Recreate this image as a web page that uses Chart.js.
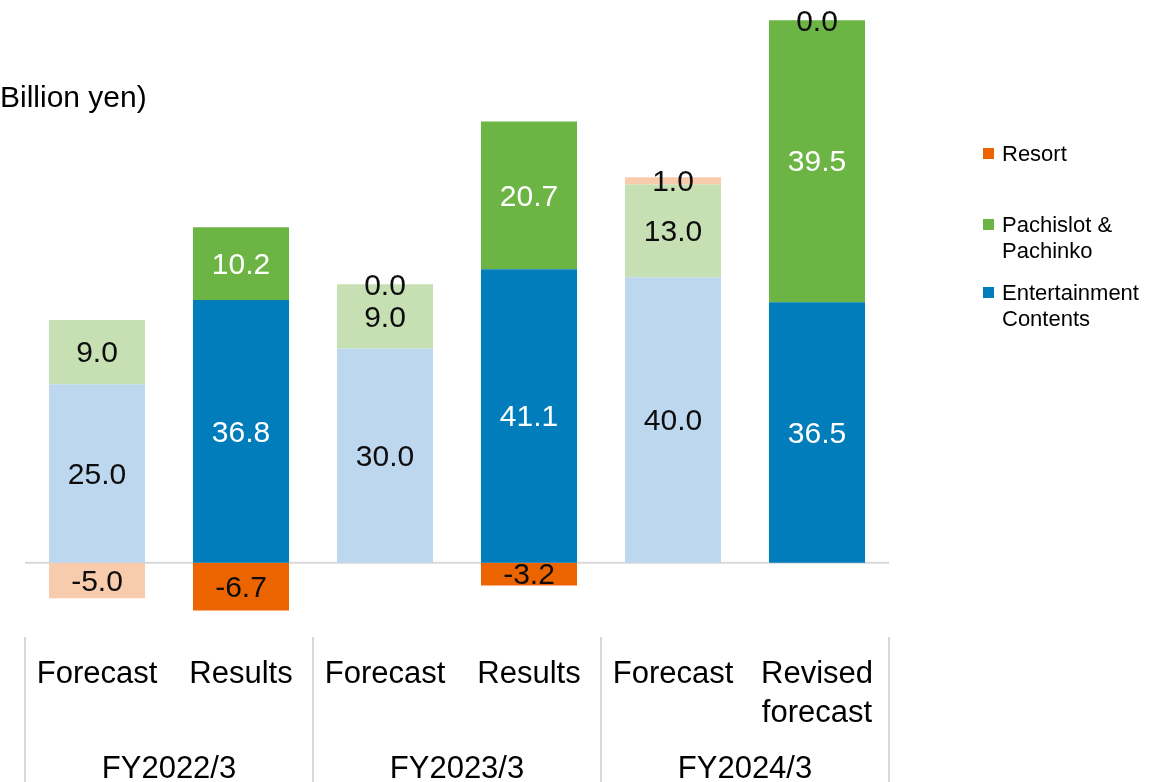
<!DOCTYPE html>
<html>
<head>
<meta charset="utf-8">
<title>Operating income by segment</title>
<script src="https://cdn.jsdelivr.net/npm/chart.js@4.4.0/dist/chart.umd.min.js"></script>
<style>
  body { margin: 0; background: #fff; overflow: hidden; }
  #wrap { position: relative; width: 1173px; height: 782px; }
  #unit { position: absolute; left: -10px; top: 82px; font: 30px/30px "Liberation Sans", Arial, sans-serif; color: #000; white-space: nowrap; }
  #legend { position: absolute; left: 983px; top: 0; font: 22px/26px "Liberation Sans", Arial, sans-serif; color: #000; }
  .item { position: absolute; left: 0; display: flex; white-space: nowrap; }
  .sw { width: 11px; height: 11px; margin-top: 7px; margin-right: 8px; flex: none; }
</style>
</head>
<body>
<div id="wrap">
  <canvas id="chart" width="1173" height="782"></canvas>
  <div id="unit">(Billion yen)</div>
  <div id="legend"></div>
</div>
<script>
// data
const categories = ['Forecast', 'Results', 'Forecast', 'Results', 'Forecast', ['Revised', 'forecast']];
const groups = ['FY2022/3', 'FY2023/3', 'FY2024/3'];
const entertainment = [25.0, 36.8, 30.0, 41.1, 40.0, 36.5];
const pachislot = [9.0, 10.2, 9.0, 20.7, 13.0, 39.5];
const resort = [-5.0, -6.7, 0.0, -3.2, 1.0, 0.0];

// forecast bars are pale, results bars are solid
const isResult = [false, true, false, true, false, true];
function shade(dark, light) { return isResult.map(r => r ? dark : light); }

const fontFamily = '"Liberation Sans", Arial, sans-serif';

// zero line, group separators and group labels
const decor = {
  id: 'decor',
  beforeDatasetsDraw(chart) {
    const { ctx, chartArea, scales } = chart;
    const y0 = scales.y.getPixelForValue(0);
    ctx.save();
    ctx.strokeStyle = '#d9d9d9';
    ctx.lineWidth = 2;
    ctx.beginPath();
    ctx.moveTo(chartArea.left, y0);
    ctx.lineTo(chartArea.right, y0);
    ctx.stroke();
    ctx.restore();
  },
  afterDraw(chart) {
    const { ctx, scales } = chart;
    const x = scales.x;
    const step = x.getPixelForValue(1) - x.getPixelForValue(0);
    ctx.save();
    ctx.strokeStyle = '#d9d9d9';
    ctx.lineWidth = 2;
    for (let g = 0; g <= groups.length; g++) {
      const px = x.getPixelForValue(g * 2) - step / 2;
      ctx.beginPath();
      ctx.moveTo(px, x.top + 3);
      ctx.lineTo(px, chart.height);
      ctx.stroke();
    }
    ctx.fillStyle = '#000';
    ctx.font = '31px ' + fontFamily;
    ctx.textAlign = 'center';
    ctx.textBaseline = 'alphabetic';
    groups.forEach((name, g) => {
      const cx = (x.getPixelForValue(g * 2) + x.getPixelForValue(g * 2 + 1)) / 2;
      ctx.fillText(name, cx, 778);
    });
    ctx.restore();
  }
};

// value labels in the middle of every segment
const valueLabels = {
  id: 'valueLabels',
  afterDatasetsDraw(chart) {
    const { ctx } = chart;
    ctx.save();
    ctx.font = '30px ' + fontFamily;
    ctx.textAlign = 'center';
    ctx.textBaseline = 'middle';
    chart.data.datasets.forEach((ds, di) => {
      chart.getDatasetMeta(di).data.forEach((bar, i) => {
        const v = ds.data[i];
        const white = di < 2 && isResult[i];
        ctx.fillStyle = white ? '#fff' : '#0d0d0d';
        ctx.fillText(v.toFixed(1), bar.x, (bar.y + bar.base) / 2 + 2);
      });
    });
    ctx.restore();
  }
};

const chart = new Chart(document.getElementById('chart'), {
  type: 'bar',
  data: {
    labels: categories,
    datasets: [
      { label: 'Entertainment\nContents', data: entertainment, backgroundColor: shade('#007dba', '#bdd7ee'), swatch: '#007dba' },
      { label: 'Pachislot &\nPachinko', data: pachislot, backgroundColor: shade('#6cb545', '#c6e0b4'), swatch: '#6cb545' },
      { label: 'Resort', data: resort, backgroundColor: shade('#eb6400', '#f8cbad'), swatch: '#eb6400' }
    ]
  },
  options: {
    responsive: false,
    animation: false,
    layout: { padding: { left: 25, right: 284, top: 6, bottom: 0 } },
    datasets: { bar: { categoryPercentage: 1, barPercentage: 0.667, borderWidth: 0 } },
    plugins: { legend: { display: false }, tooltip: { enabled: false } },
    scales: {
      x: {
        stacked: true,
        grid: { display: false },
        border: { display: false },
        ticks: {
          color: '#000',
          font: { family: fontFamily, size: 31, lineHeight: 1.26 },
          padding: 13,
          maxRotation: 0,
          autoSkip: false
        },
        afterFit(scale) { scale.height = 148; }
      },
      y: { stacked: true, display: false, min: -10, max: 78 }
    }
  },
  plugins: [decor, valueLabels]
});

// legend, top entry first like the stack order
const legend = document.getElementById('legend');
const legendTops = [141, 212, 280];
chart.data.datasets.slice().reverse().forEach((ds, i) => {
  const item = document.createElement('div');
  item.className = 'item';
  item.style.top = legendTops[i] + 'px';
  item.innerHTML = `<span class="sw" style="background:${ds.swatch}"></span><span>${ds.label.replace('\n', '<br>')}</span>`;
  legend.appendChild(item);
});
</script>
</body>
</html>
